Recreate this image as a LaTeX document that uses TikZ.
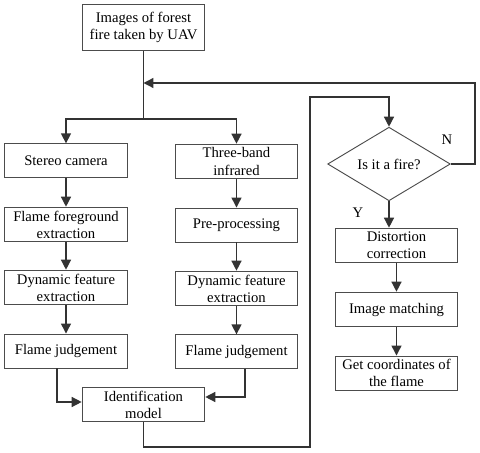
\documentclass[tikz,border=0pt]{standalone}
\usepackage{fontspec}
\setmainfont{Liberation Serif}
\usetikzlibrary{arrows.meta,shapes.geometric,calc}
\begin{document}
\begin{tikzpicture}[x=0.75pt,y=-0.75pt,
  box/.style={draw=black!70,line width=0.7pt,rectangle,inner sep=0pt,align=center,
     minimum width=92pt,font=\fontsize{11}{12.8}\selectfont},
  dec/.style={draw=black!70,line width=0.7pt,diamond,inner sep=0pt,align=center,
     minimum width=92pt,minimum height=51pt,font=\fontsize{11}{12.8}\selectfont},
  conn/.style={draw=black!80,line width=1pt},
  arr/.style={conn,-{Triangle[length=7.5pt,width=7.5pt]}},
  lbl/.style={font=\fontsize{11}{12.8}\selectfont}]
\useasboundingbox (0,0) rectangle (480,453);
\node[box,minimum height=35pt] (top) at (143.5,27.5) {Images of forest\\fire taken by UAV};
\node[box,minimum height=25pt] (stereo) at (66,160.5) {Stereo camera};
\node[box,minimum height=26pt] (ffe) at (66,224.5) {Flame foreground\\extraction};
\node[box,minimum height=26pt] (dfe1) at (66,287.5) {Dynamic feature\\extraction};
\node[box,minimum height=25.5pt] (fj1) at (66,351) {Flame judgement};
\node[box,minimum height=26pt] (three) at (236.5,161.5) {Three-band\\infrared};
\node[box,minimum height=25.5pt] (pre) at (236.5,225) {Pre-processing};
\node[box,minimum height=26pt] (dfe2) at (236.5,288.5) {Dynamic feature\\extraction};
\node[box,minimum height=25pt] (fj2) at (236.5,351.5) {Flame judgement};
\node[box,minimum height=26pt] (ident) at (143.5,404.5) {Identification\\model};
\node[dec] (dia) at (389,164) {Is it a fire?};
\node[box,minimum height=26pt] (dist) at (396.5,245.5) {Distortion\\correction};
\node[box,minimum height=26pt] (img) at (396.5,309.5) {Image matching};
\node[box,minimum height=25.5pt] (coord) at (396.5,373) {Get coordinates of\\the flame};
\node[lbl] (ylab) at (358,213) {Y};
\node[lbl] (nlab) at (447,140) {N};
\coordinate (jret) at (143.5,83);
\coordinate (jsplit) at (143.5,119);
\coordinate (rc) at (475,164);
\coordinate (bl) at (143.5,447);
\coordinate (br) at (310,447);
\coordinate (tr) at (310,97);
% main flow
\draw[conn] (top.south) -- (jsplit);
\draw[arr] (jsplit) -| (stereo.north);
\draw[arr] (jsplit) -| (three.north);
\draw[arr] (stereo) -- (ffe);
\draw[arr] (ffe) -- (dfe1);
\draw[arr] (dfe1) -- (fj1);
\draw[arr] (three) -- (pre);
\draw[arr] (pre) -- (dfe2);
\draw[arr] (dfe2) -- (fj2);
\draw[arr] ($(fj1.south)+(-9,0)$) |- ($(ident.west)+(0,-2.5)$);
\draw[arr] ($(fj2.south)+(8.5,0)$) |- ($(ident.east)+(0,-7.5)$);
\draw[arr] (ident.south) -- (bl) -- (br) -- (tr) -| (dia.north);
\draw[arr] (dia.east) -- (rc) |- (jret);
\draw[arr] (dia.south) -- (dia.south |- dist.north);
\draw[arr] (dist) -- (img);
\draw[arr] (img) -- (coord);
\end{tikzpicture}
\end{document}
